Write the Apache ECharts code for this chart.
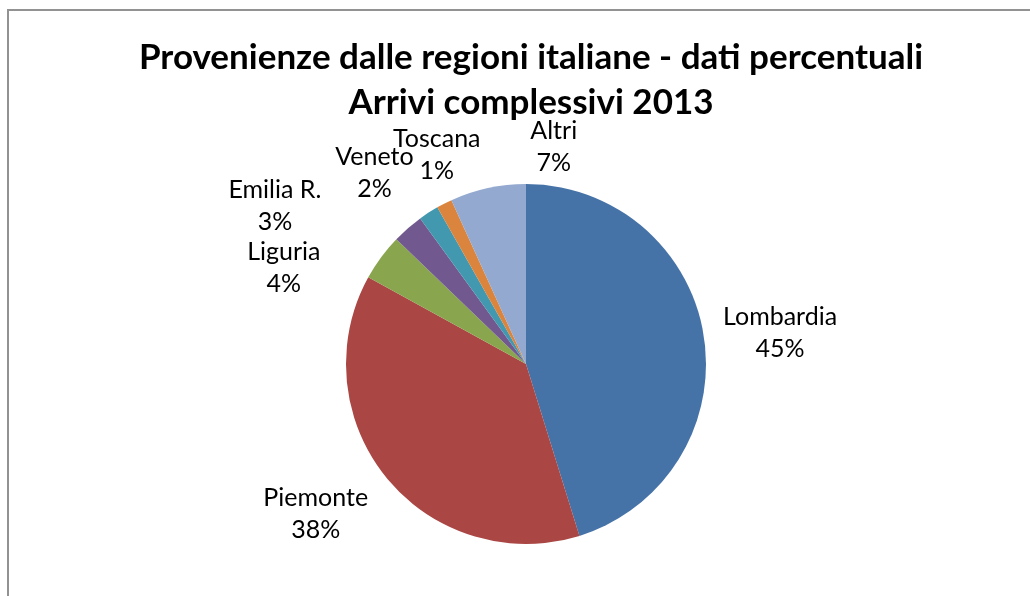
<!DOCTYPE html>
<html lang="it">
  <head>
    <meta charset="UTF-8" />
    <title>Provenienze dalle regioni italiane</title>
    <script src="https://cdn.jsdelivr.net/npm/echarts@6/dist/echarts.min.js"></script>
    <style>
      * {
        margin: 0;
        padding: 0;
      }
      html,
      body {
        background: #fff;
      }
    </style>
  </head>
  <body>
    <div id="charts" style="width: 1030px; height: 596px"></div>
    <script>
      // dati (percentuali)
      var regioni = ["Lombardia", "Piemonte", "Liguria", "Emilia R.", "Veneto", "Toscana", "Altri"];
      var percentuali = [45.2, 37.8, 4.2, 2.8, 1.8, 1.4, 6.8];
      var colori = ["#4572A7", "#AA4643", "#89A54E", "#71588F", "#4198AF", "#DB843D", "#93A9CF"];

      // spostamento etichette (stile Excel "adatta")
      var spostamenti = [
        [-4, 7],
        [-7, -12],
        [-31, 56],
        [-78, 35],
        [-8, 24],
        [32, 19],
        [87, 33],
      ];

      var myEcharts = echarts.init(document.getElementById("charts"));

      var pieData = regioni.map(function (nome, i) {
        return { name: nome, value: percentuali[i], itemStyle: { color: colori[i] } };
      });

      var options = {
        backgroundColor: "#fff",
        animation: false,
        title: {
          text: "Provenienze dalle regioni italiane - dati percentuali\nArrivi complessivi 2013",
          left: 526,
          top: 30,
          textAlign: "center",
          textStyle: {
            fontFamily: "Lato",
            fontWeight: "bold",
            fontSize: 35,
            lineHeight: 45,
            color: "#000",
          },
        },
        graphic: [
          {
            type: "rect",
            shape: { x: 8, y: 10, width: 1200, height: 800 },
            style: { fill: null, stroke: "#929292", lineWidth: 2 },
            silent: true,
          },
        ],
        series: [
          {
            type: "pie",
            center: [526, 364],
            radius: 180,
            startAngle: 90,
            clockwise: true,
            avoidLabelOverlap: false,
            data: pieData,
            label: {
              show: true,
              position: "outside",
              fontFamily: "Lato",
              fontSize: 25,
              lineHeight: 32,
              color: "#000",
              formatter: function (p) {
                return p.name + "\n" + Math.round(p.percent) + "%";
              },
            },
            labelLine: { show: false, length: 76, length2: 0 },
            labelLayout: function (p) {
              var s = spostamenti[p.dataIndex];
              return { align: "center", verticalAlign: "middle", dx: s[0], dy: s[1] };
            },
            emphasis: { disabled: true },
          },
        ],
      };
      myEcharts.setOption(options);
    </script>
  </body>
</html>
